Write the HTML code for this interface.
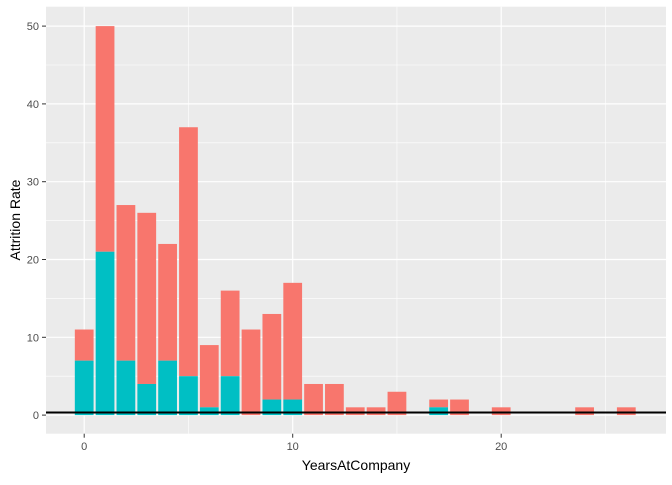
<!DOCTYPE html>
<html><head><meta charset="utf-8"><style>
body{margin:0;background:#fff;}
svg text{font-family:"Liberation Sans",sans-serif;}
</style></head><body>
<svg id="chart" width="672" height="480" xmlns="http://www.w3.org/2000/svg">
<rect x="46" y="6.7" width="620" height="427" fill="#ebebeb"/>
<g id="grid"></g><g id="bars"></g><g id="axes"></g>
<text x="356" y="470" text-anchor="middle" font-size="14" fill="#000">YearsAtCompany</text>
<text transform="translate(20,220) rotate(-90)" text-anchor="middle" font-size="14" fill="#000">Attrition Rate</text>
</svg>
<script>
const years=[0,1,2,3,4,5,6,7,8,9,10,11,12,13,14,15,17,18,20,24,26];
const totals=[11,50,27,26,22,37,9,16,11,13,17,4,4,1,1,3,2,2,1,1,1];
const teal=[7,21,7,4,7,5,1,5,0,2,2,0,0,0,0,0,1,0,0,0,0];
const yTicks=[0,10,20,30,40,50];
const xTicks=[0,10,20];
const NS="http://www.w3.org/2000/svg";
const X=v=>84.2+v*20.85, Y=v=>415.1-v*7.78;
function mk(t,a,p){const e=document.createElementNS(NS,t);for(const k in a)e.setAttribute(k,a[k]);p.appendChild(e);return e;}
const grid=document.getElementById('grid'),bars=document.getElementById('bars'),axes=document.getElementById('axes');
for(let v=5;v<=55;v+=10){if(Y(v)<7)continue;const l=mk('line',{x1:46,x2:666,y1:Y(v),y2:Y(v),stroke:'#fff','stroke-width':0.6},grid);

}
for(const v of [5,15,25]){const l=mk('line',{x1:X(v),x2:X(v),y1:6.7,y2:433.7,stroke:'#fff','stroke-width':0.6},grid);

}
yTicks.forEach(v=>{const l=mk('line',{x1:46,x2:666,y1:Y(v),y2:Y(v),stroke:'#fff','stroke-width':1.2},grid);


mk('line',{x1:42,x2:46,y1:Y(v),y2:Y(v),stroke:'#333','stroke-width':1},axes);
const t=mk('text',{x:39,y:Y(v)+4,'text-anchor':'end','font-size':11,fill:'#4d4d4d'},axes);t.textContent=v;

});
xTicks.forEach(v=>{const l=mk('line',{x1:X(v),x2:X(v),y1:6.7,y2:433.7,stroke:'#fff','stroke-width':1.2},grid);


mk('line',{x1:X(v),x2:X(v),y1:433.7,y2:437.7,stroke:'#333','stroke-width':1},axes);
const t=mk('text',{x:X(v),y:450,'text-anchor':'middle','font-size':11,fill:'#4d4d4d'},axes);t.textContent=v;

});
const w=0.9*20.85;
years.forEach((yr,i)=>{
const r=mk('rect',{x:X(yr)-w/2,y:Y(totals[i]),width:w,height:Y(teal[i])-Y(totals[i]),fill:'#f8766d'},bars);


if(teal[i]>0){const b=mk('rect',{x:X(yr)-w/2,y:Y(teal[i]),width:w,height:Y(0)-Y(teal[i]),fill:'#00bfc4'},bars);

}
});
const h=mk('line',{x1:46,x2:666,y1:Y(0.33),y2:Y(0.33),stroke:'#000','stroke-width':2},bars);


</script>
</body></html>
